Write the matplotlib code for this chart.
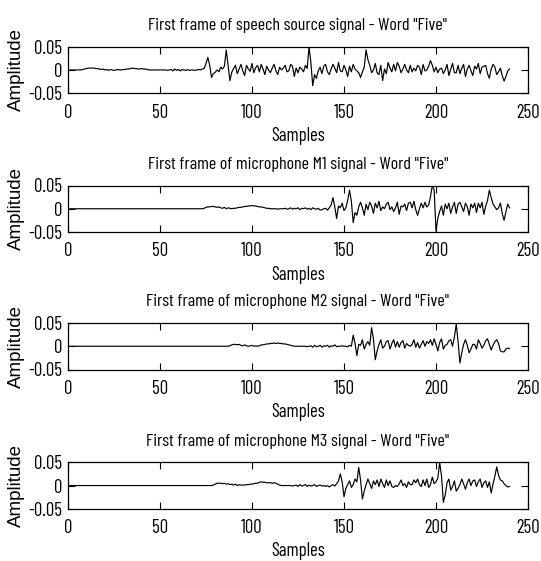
import numpy as np
import matplotlib
matplotlib.use("Agg")
import matplotlib.pyplot as plt

# ---------------- data (amplitudes in units of 1e-3) ----------------
samples = np.arange(1, 241)

source = [
    0, 0, 0, 0, 0, 0, 0, 1, 2, 3,
    4, 4, 4, 4, 3, 3, 2, 1, 2, 0,
    1, -1, 1, 0, -1, 0, 1, 0, 0, 1,
    1, 2, 2, 3, 4, 3, 3, 2, 2, 3,
    2, 2, 1, 0, 0, 0, 0, 0, 0, 0,
    0, 0, 0, -1, 0, 1, -2, 2, -1, 1,
    -2, 1, 0, -1, 1, -1, 0, 0, -1, 0,
    1, 0, 2, 3, 14, 27, 10, -16, -8, -5,
    0, -4, 6, 2, 8, 43, 10, -23, -5, 3,
    10, -8, 2, 12, -2, -12, 10, 2, -3, 14,
    -6, 5, 10, -4, 12, 2, -10, 8, 0, -6,
    4, 12, -2, -10, 6, 0, 4, 10, -4, -2,
    12, 8, -14, 4, -6, 6, 2, -4, 10, 3,
    50, 16, -34, -10, -18, -2, 6, -8, 8, 12,
    -4, -10, 2, 12, 4, -6, 16, -2, -4, 10,
    0, -14, 8, -4, 12, 2, -2, -6, -16, -4,
    6, 43, 22, 10, -6, 0, 14, -6, -10, 10,
    -23, 2, -8, 16, 4, -4, 12, -2, 16, 8,
    -6, 2, 12, 0, -6, 10, -4, 4, -2, 10,
    6, -10, 12, -2, 0, 8, 20, 10, -4, 6,
    -6, 2, 4, -8, 0, 12, -12, 2, 14, -6,
    -6, 10, -8, 4, 12, -14, 2, 10, -2, -12,
    8, 2, 14, -8, 6, 8, 10, -8, -18, 2,
    12, 6, -10, -4, 4, -12, -24, -14, -2, 2,
]

mic1 = [
    0, 0, 0, 0, 0, 0, 0, 0, 0, 0,
    0, 0, 0, 0, 0, 0, 0, 0, 0, 0,
    0, 0, 0, 0, 0, 0, 0, 0, 0, 0,
    0, 0, 0, 0, 0, 0, 0, 0, 0, 0,
    0, 0, 0, 0, 0, 0, 0, 0, 0, 0,
    0, 0, 0, 0, 0, 0, 0, 0, 0, 0,
    0, 0, 0, 0, 0, 0, 0, 0, 0, 0,
    0, 0, 0, 1, 3, 4, 4, 5, 5, 4,
    3, 4, 2, 1, 3, 0, 2, 1, 0, 1,
    1, 2, 3, 3, 4, 5, 5, 6, 6, 7,
    6, 6, 5, 4, 4, 3, 2, 1, 1, 0,
    0, 0, 0, -1, 0, 0, 0, 1, -1, 0,
    2, -1, 1, 0, 2, -2, 1, 0, 2, -1,
    1, -2, 2, 0, -1, 1, -3, -2, 0, 1,
    -3, 2, 8, 24, 4, -21, 6, 2, 12, -4,
    2, 18, 40, 16, -30, -8, -14, 4, 14, 2,
    -14, 10, -2, 14, 6, -10, 12, 2, 16, -4,
    4, 0, 10, 14, -2, 4, -6, 2, 14, -12,
    6, 4, 10, -4, 12, 14, 2, 16, -2, -14,
    0, 12, 2, 14, 4, 8, 26, 50, 40, -48,
    -20, -6, 6, -14, 10, 0, 12, -10, 4, 14,
    -10, 10, 14, 4, -6, 12, 4, -14, 10, 2,
    12, -8, 12, 2, 14, -12, 6, 18, 40, 24,
    10, 4, -2, 2, 12, -10, -25, -6, 10, 2,
]

mic2 = [
    0, 0, 0, 0, 0, 0, 0, 0, 0, 0,
    0, 0, 0, 0, 0, 0, 0, 0, 0, 0,
    0, 0, 0, 0, 0, 0, 0, 0, 0, 0,
    0, 0, 0, 0, 0, 0, 0, 0, 0, 0,
    0, 0, 0, 0, 0, 0, 0, 0, 0, 0,
    0, 0, 0, 0, 0, 0, 0, 0, 0, 0,
    0, 0, 0, 0, 0, 0, 0, 0, 0, 0,
    0, 0, 0, 0, 0, 0, 0, 0, 0, 0,
    0, 0, 0, 0, 0, 0, 0, 1, 3, 4,
    4, 3, 4, 2, 1, 3, 1, 0, 1, 2,
    0, 1, 0, 1, 3, 3, 4, 5, 5, 6,
    6, 7, 6, 7, 6, 6, 5, 5, 4, 3,
    2, 1, 0, 0, 0, 0, 0, 0, 0, -1,
    0, 1, -2, 2, -1, 0, 2, -2, 1, 0,
    2, -2, 1, 0, 3, -1, 0, 0, 1, 0,
    0, -1, 2, 0, 24, 6, -20, 4, 2, 14,
    -6, 4, 10, 2, 40, 16, -29, -10, 4, 14,
    -4, 0, 10, 12, -6, 6, 14, -2, 10, -2,
    8, 12, -4, 6, 2, 0, 4, 14, -2, 8,
    -4, 4, 12, 0, 10, 6, 14, 2, 16, 4,
    -10, 8, 16, -6, 2, 4, 12, 14, 0, 20,
    48, 10, -36, -14, 4, 14, 2, -14, -6, 4,
    4, -6, 14, 6, -4, 2, 12, 16, 4, -8,
    2, 10, 14, 6, -10, -12, -12, -6, -4, -5,
]

mic3 = [
    0, 0, 0, 0, 0, 0, 0, 0, 0, 0,
    0, 0, 0, 0, 0, 0, 0, 0, 0, 0,
    0, 0, 0, 0, 0, 0, 0, 0, 0, 0,
    0, 0, 0, 0, 0, 0, 0, 0, 0, 0,
    0, 0, 0, 0, 0, 0, 0, 0, 0, 0,
    0, 0, 0, 0, 0, 0, 0, 0, 0, 0,
    0, 0, 0, 0, 0, 0, 0, 0, 0, 0,
    0, 0, 0, 0, 0, 0, 0, 0, 1, 3,
    5, 5, 5, 4, 5, 3, 4, 2, 3, 1,
    3, 0, 2, 1, 1, 1, 2, 2, 3, 3,
    4, 5, 5, 7, 8, 7, 7, 6, 6, 6,
    5, 6, 5, 3, 1, 0, 0, 0, 0, 0,
    0, -1, 0, 1, -2, 2, -1, 0, 2, -2,
    1, -1, 0, 2, -2, 0, 1, -1, 0, -2,
    0, -3, 0, 2, -1, 4, 10, 25, 8, -24,
    -6, 2, 10, -4, 2, 14, 8, 39, 12, -29,
    -12, 2, 14, 4, -6, 10, 2, 12, -2, 14,
    4, -4, 12, 0, 10, -2, -4, 0, -2, 4,
    12, 0, 4, -4, 8, 2, 2, 12, 6, 14,
    2, -2, 12, 0, 14, -4, 2, 18, 4, 8,
    16, 50, 20, -36, -20, 6, 14, -10, -2, 10,
    -12, -6, 2, 14, 4, -8, 6, 14, 0, 10,
    12, -2, 8, 14, -4, 6, 10, -4, 8, -16,
    4, 20, 40, 22, 12, 10, 4, 0, -3, -2,
]

series = [source, mic1, mic2, mic3]
titles = [
    'First frame of speech source signal - Word "Five"',
    'First frame of microphone M1 signal - Word "Five"',
    'First frame of microphone M2 signal - Word "Five"',
    'First frame of microphone M3 signal - Word "Five"',
]
xticks = [0, 50, 100, 150, 200, 250]
yticks = [-0.05, 0, 0.05]
ytick_labels = ["-0.05", "0", "0.05"]
xlabel = "Samples"
ylabel = "Amplitude"
unit = 1e-3

# ---------------- figure ----------------
plt.rcParams["axes.unicode_minus"] = False
narrow = ["Barlow Condensed", "Roboto Condensed", "Liberation Sans", "DejaVu Sans"]
regular = ["Liberation Sans", "DejaVu Sans"]

W, H = 541, 561
fig = plt.figure(figsize=(W / 100, H / 100), dpi=100)
fig.patch.set_facecolor("white")

left_px, width_px, height_px = 68, 460, 46.5
tops_px = [46.7, 185.5, 323.0, 462.3]

for top, y, title in zip(tops_px, series, titles):
    ax = fig.add_axes([left_px / W, 1 - (top + height_px) / H,
                       width_px / W, height_px / H])
    ax.plot(samples, np.asarray(y) * unit, color="black", lw=0.85)
    ax.set_xlim(0, 250)
    ax.set_ylim(-0.05, 0.05)
    ax.set_xticks(xticks)
    ax.set_xticklabels([str(t) for t in xticks], family=narrow, fontsize=13.5)
    ax.set_yticks(yticks)
    ax.set_yticklabels(ytick_labels, family=narrow, fontsize=13.5)
    ax.tick_params(axis="both", direction="in", length=5, width=0.8,
                   top=True, right=True, colors="black")
    ax.tick_params(axis="x", pad=7.5)
    ax.tick_params(axis="y", pad=4)
    for sp in ax.spines.values():
        sp.set_linewidth(0.9)
        sp.set_color("black")
    ax.set_title(title, family=narrow, fontsize=13, pad=12)
    ax.set_xlabel(xlabel, family=narrow, fontsize=13.5)
    ax.xaxis.set_label_coords(0.5, -33.5 / height_px)
    ax.set_ylabel(ylabel, family=regular, fontsize=13.5)
    ax.yaxis.set_label_coords((25 - left_px) / width_px, 0.5)

fig.savefig("out.png", dpi=100, facecolor="white")
